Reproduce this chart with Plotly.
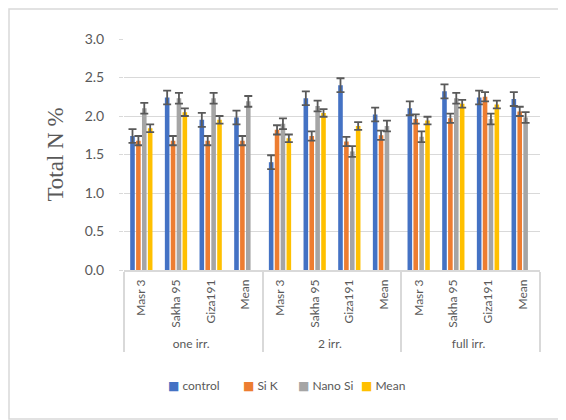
import plotly.graph_objects as go

groups = ["one irr."] * 4 + ["2 irr."] * 4 + ["full irr."] * 4
cultivars = ["Masr 3", "Sakha 95", "Giza191", "Mean"] * 3

control = [1.74, 2.24, 1.95, 1.98, 1.40, 2.23, 2.40, 2.02, 2.10, 2.32, 2.24, 2.22]
si_k = [1.68, 1.68, 1.68, 1.68, 1.82, 1.74, 1.67, 1.75, 1.96, 1.97, 2.25, 2.06]
nano_si = [2.10, 2.23, 2.23, 2.19, 1.90, 2.13, 1.54, 1.87, 1.73, 2.23, 1.96, 1.98]
mean = [1.84, 2.05, 1.95, None, 1.71, 2.04, 1.87, None, 1.94, 2.16, 2.15, None]

err_control = 0.09
err_sik = 0.06
err_nano = 0.07
err_mean = 0.05

series_names = ["control", "Si K", "Nano Si", "Mean"]
series_vals = [control, si_k, nano_si, mean]
series_errs = [err_control, err_sik, err_nano, err_mean]
series_colors = ["#4472C4", "#ED7D31", "#A5A5A5", "#FFC000"]

OFF = 8  # page body margin
W, H = 566, 420
ML, MR, MT, MB = 124 - OFF, 26 + OFF, 39 - OFF, 150 + OFF
PW, PH = W - ML - MR, H - MT - MB

fig = go.Figure()
for name, vals, err, col in zip(series_names, series_vals, series_errs, series_colors):
    fig.add_trace(go.Bar(
        x=[groups, cultivars], y=vals, name=name,
        marker=dict(color=col, line=dict(width=0)),
        error_y=dict(type="constant", value=err, color="#595959",
                     thickness=1.8, width=4),
    ))

def px_x(p):
    return (p - OFF - ML) / PW

def px_y(p):
    return (H - MB - (p - OFF)) / PH

# legend entries drawn as annotations (Excel-style compact legend)
legend_x = [166, 241, 296, 359]
annotations = []
for name, col, lx in zip(series_names, series_colors, legend_x):
    annotations.append(dict(
        xref="paper", yref="paper", x=px_x(lx), y=px_y(385),
        xanchor="left", yanchor="middle", showarrow=False,
        text=f"<span style='color:{col}'>■</span> {name}",
        font=dict(size=12, color="#595959", family="Lato, DejaVu Sans, sans-serif"),
    ))

fig.update_layout(
    width=W, height=H,
    margin=dict(l=ML, r=MR, t=MT, b=MB, autoexpand=False),
    paper_bgcolor="white", plot_bgcolor="white",
    barmode="group", bargap=0.32, bargroupgap=0.22,
    font=dict(family="Lato, Noto Sans, sans-serif", color="#595959"),
    showlegend=False,
    annotations=annotations,
    xaxis=dict(type="multicategory", tickangle=-90,
               tickfont=dict(size=12, color="#595959"),
               ticklabelstandoff=3,
               showline=True, linecolor="#d9d9d9", linewidth=1.5,
               showdividers=True, dividercolor="#d9d9d9", dividerwidth=1.5,
               showgrid=False, ticks=""),
    yaxis=dict(range=[0, 3.0], dtick=0.5, tickformat=".1f",
               showgrid=True, gridcolor="#d9d9d9", gridwidth=1.2,
               zeroline=False, showline=False,
               ticks="outside", ticklen=4, tickcolor="#d9d9d9",
               ticklabelstandoff=12,
               tickfont=dict(size=14, color="#595959"),
               title=dict(text="Total N %", standoff=14,
                          font=dict(family="Liberation Serif, serif", size=23,
                                    color="#595959"))),
    shapes=[dict(type="rect", xref="paper", yref="paper",
                 x0=px_x(9), x1=px_x(590), y0=px_y(419), y1=px_y(9),
                 line=dict(color="#d9d9d9", width=1.5), layer="below")],
)

fig.write_html("out.html")
